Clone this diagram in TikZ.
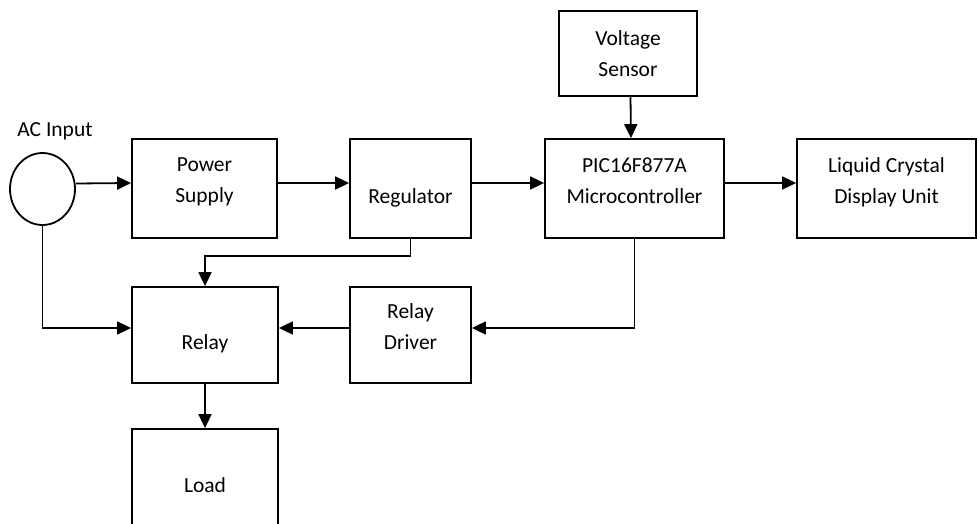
\documentclass[tikz,border=0pt]{standalone}
\usepackage{fontspec}
\setmainfont{Carlito}
\usetikzlibrary{arrows.meta,shapes.geometric}
\tikzset{
  block/.style={draw, line width=1.8pt, align=center, inner sep=0pt},
  oneline/.style={text height=34pt, text depth=5pt},
  twoline/.style={text depth=16pt},
  link/.style={line width=1.8pt, -{Triangle[length=14pt,width=13pt]}},
}

\begin{document}
\begin{tikzpicture}[x=1pt, y=-1pt, font=\fontsize{21.5}{31}\selectfont]
  \useasboundingbox (0,0) rectangle (977,524);
  % source and first row of blocks
  \node[draw, ellipse, line width=1.8pt, minimum width=65pt, minimum height=72pt] (ac) at (42.5,189) {};
  \node (aclbl) at (55,131) {AC Input};
  \node[block, minimum width=138pt, minimum height=85pt] (vs) at (628,53.5) {Voltage\\Sensor};
  \node[block, twoline, minimum width=145pt, minimum height=99pt] (ps) at (204.5,188.5) {Power\\Supply};
  \node[block, oneline, minimum width=121pt, minimum height=99pt] (reg) at (410.5,188.5) {Regulator};
  \node[block, twoline, minimum width=179pt, minimum height=99pt] (mcu) at (634.5,188.5) {PIC16F877A\\Microcontroller};
  \node[block, twoline, minimum width=179pt, minimum height=99pt] (lcd) at (886.5,188.5) {Liquid Crystal\\Display Unit};
  % relay part
  \node[block, oneline, minimum width=146pt, minimum height=96pt] (relay) at (205,335) {Relay};
  \node[block, twoline, minimum width=121pt, minimum height=96pt] (rd) at (410.5,335) {Relay\\Driver};
  \node[block, oneline, minimum width=146pt, minimum height=98pt] (load) at (205,478) {Load};
  % connections
  \draw[link] ([yshift=5.5pt]ac.east) -- ([yshift=5.5pt]ps.west);
  \draw[link] ([yshift=5.5pt]ps.east) -- ([yshift=5.5pt]reg.west);
  \draw[link] ([yshift=5.5pt]reg.east) -- ([yshift=5.5pt]mcu.west);
  \draw[link] ([yshift=5.5pt]mcu.east) -- ([yshift=5.5pt]lcd.west);
  \draw[link] ([xshift=2.5pt]vs.south) -- ([xshift=-3.5pt]mcu.north);
  \draw[link] (reg.south) -- ++(0,17) -| (relay.north);
  \draw[link] (ac.south) |- ([yshift=7pt]relay.west);
  \draw[link] (mcu.south) |- ([yshift=7pt]rd.east);
  \draw[link] ([yshift=7pt]rd.west) -- ([yshift=7pt]relay.east);
  \draw[link] (relay.south) -- (load.north);
\end{tikzpicture}
\end{document}
